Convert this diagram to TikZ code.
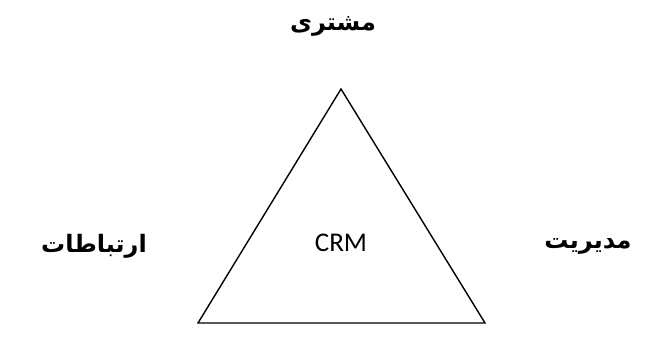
\documentclass[tikz,border=0pt]{standalone}
\usepackage{fontspec}
\TeXXeTstate=1
\newfontfamily\arabicfont[Script=Arabic]{DejaVu Sans}
\newfontfamily\crmfont{Carlito}
\begin{document}
\begin{tikzpicture}[x=1pt,y=-1pt,
  label/.style={font=\arabicfont\bfseries\fontsize{24}{28}\selectfont, inner sep=0pt},
  edge/.style={line width=1.4pt, line join=miter}]
\useasboundingbox (0,0) rectangle (652,350);
\coordinate (apex) at (341,89);
\coordinate (bl) at (198,323);
\coordinate (br) at (485,323);
\draw[edge] (apex) -- (bl) -- (br) -- cycle;
\node[font=\crmfont\fontsize{27}{30}\selectfont, inner sep=0pt] (crm) at (341,243) {CRM};
\node[label] (top) at (333,26) {\beginR مشتری\endR};
\node[label] (left) at (94,246) {\beginR ارتباطات\endR};
\node[label] (right) at (588,246) {\beginR مدیریت\endR};
\end{tikzpicture}
\end{document}
